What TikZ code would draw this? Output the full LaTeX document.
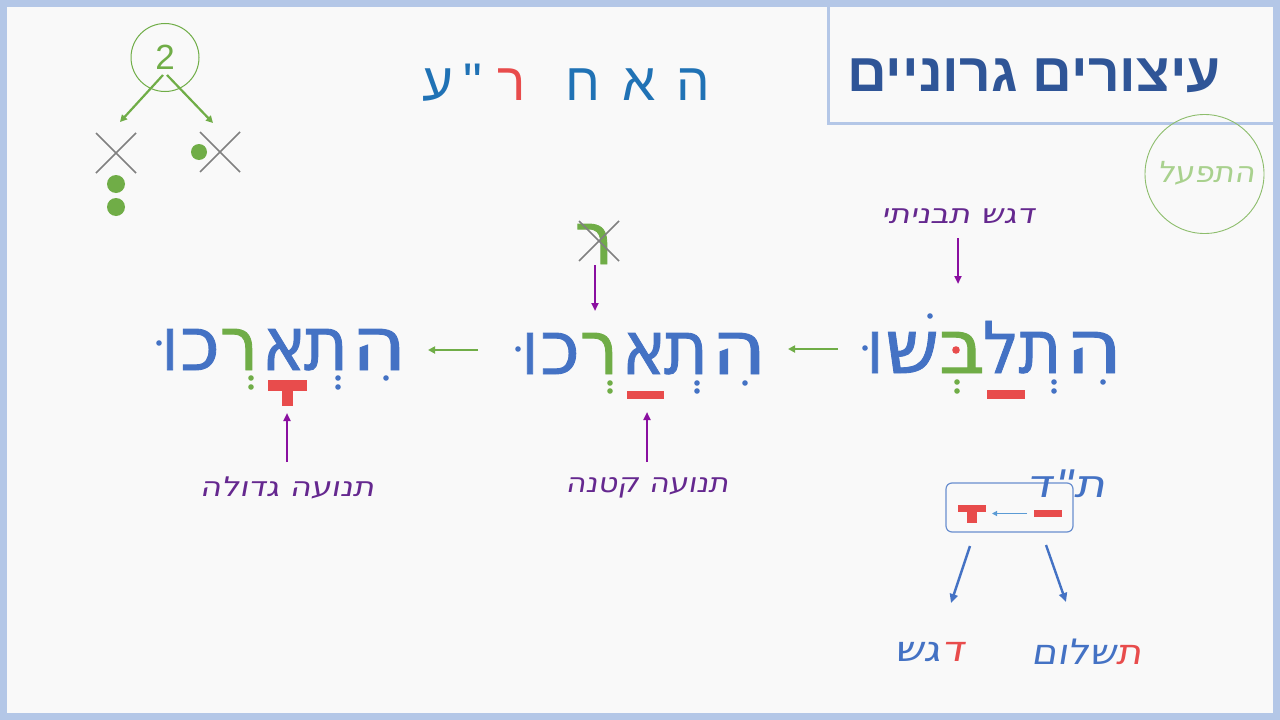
\documentclass[tikz,border=0pt]{standalone}
\usepackage{fontspec}
\usetikzlibrary{arrows.meta}
\TeXXeTstate=1
\newfontfamily\heb[Script=Hebrew]{Liberation Sans}
\newfontfamily\hebw[Script=Hebrew,FakeBold=1.2]{DejaVu Sans}
\newfontfamily\hand[Script=Hebrew,FakeSlant=0.15]{DejaVu Sans}
\newcommand{\rl}[3]{\resizebox{#1pt}{#2pt}{#3}}
\newcommand{\hs}[1]{\scalebox{1.2}[1]{#1}}
\definecolor{bgc}{HTML}{F9F9F9}
\definecolor{framec}{HTML}{B4C7E7}
\definecolor{wblue}{HTML}{4472C4}
\definecolor{wgreen}{HTML}{70AD47}
\definecolor{wred}{HTML}{E84C4C}
\definecolor{titleblue}{HTML}{2F5597}
\definecolor{topblue}{HTML}{2072B5}
\definecolor{apurple}{HTML}{8A10A0}
\definecolor{tpurple}{HTML}{65288F}
\definecolor{xgray}{HTML}{808080}
\definecolor{lgreen}{HTML}{A9D18E}
\definecolor{boxblue}{HTML}{6A8FCF}
\definecolor{smallarrow}{HTML}{5B9BD5}
\begin{document}
\begin{tikzpicture}[x=1pt,y=-1pt,
  letter/.style={anchor=base,inner sep=0pt,outer sep=0pt,font=\hebw\fontsize{66}{66}\selectfont,text=wblue},
  topletter/.style={anchor=base,inner sep=0pt,outer sep=0pt,font=\heb\fontsize{53}{53}\selectfont,text=topblue},
  hlabel/.style={inner sep=0pt,font=\hand\fontsize{27}{27}\selectfont,text=tpurple},
  parrow/.style={draw=apurple,line width=2.2pt,-{Triangle[length=8pt,width=7pt]}},
  garrow/.style={draw=wgreen,line width=2pt,-{Triangle[length=7pt,width=7pt]}},
  barrow/.style={draw=wblue,line width=2.4pt,-{Triangle[length=9pt,width=8pt]}},
  xline/.style={draw=xgray,line width=1.6pt},
]
\useasboundingbox (0,0) rectangle (1280,720);
\fill[bgc] (0,0) rectangle (1280,720);
\draw[framec,line width=7pt] (3.5,3.5) rectangle (1276.5,716.5);

% title box
\draw[framec,line width=3.5pt] (828.5,4) -- (828.5,123.5) -- (1273,123.5);
\node[anchor=base,inner sep=0pt,font=\heb\bfseries\fontsize{54}{54}\selectfont,text=titleblue] (title) at (1034,91) {\scalebox{1.02}[1]{\beginR עיצורים גרוניים\endR}};

% circle hitpael
\node[circle,draw=wgreen!80,line width=0.9pt,minimum size=119pt,inner sep=0pt] (hitc) at (1204.5,174) {};
\node[inner sep=0pt,font=\hand\fontsize{29}{29}\selectfont,text=lgreen] (hit) at (1206,173) {\scalebox{1.08}[1]{\beginR התפעל\endR}};

% top letters
\node[topletter] (t1) at (693,100) {ה};
\node[topletter] (t2) at (639,100) {א};
\node[topletter] (t3) at (583,100) {ח};
\node[topletter,text=wred] (t4) at (512,100) {ר};
\node[topletter] (t5) at (473,100) {"};
\node[topletter] (t6) at (438,100) {ע};

% top-left diagram
\node[circle,draw=wgreen,line width=1pt,minimum size=68pt,inner sep=0pt,font=\heb\fontsize{35}{35}\selectfont,text=wgreen] (two) at (165,57.5) {2};
\coordinate (g1s) at (163,75);
\coordinate (g1e) at (120,122);
\coordinate (g2s) at (167,75);
\coordinate (g2e) at (213,123);
\draw[garrow,line width=2.2pt] (g1s) -- (g1e);
\draw[garrow,line width=2.2pt] (g2s) -- (g2e);
\draw[xline] (96,133) -- (136,173) (96,173) -- (136,133);
\draw[xline] (200,132) -- (240,172) (200,172) -- (240,132);
\fill[wgreen] (116,184) circle (9pt);
\fill[wgreen] (116,207) circle (9pt);
\fill[wgreen] (199,152) circle (8pt);

% word 1: התלבשו
\node[letter] (w1a) at (1094,373) {\rl{57}{41}{ה}};
\node[letter] (w1b) at (1040,373) {\rl{43}{41}{ת}};
\node[letter] (w1c) at (1001,373) {\rl{36}{52}{ל}};
\node[letter,text=wgreen] (w1d) at (962,373) {\rl{46}{41}{ב}};
\node[letter] (w1e) at (912,373) {\rl{54}{41}{ש}};
\node[letter] (w1f) at (875,373) {\rl{16}{41}{ו}};
\fill[wblue] (865,348) circle (2.8pt);
\fill[wblue] (930,316) circle (2.8pt);
\fill[wred] (956,350) circle (3.8pt);
\fill[wblue] (1103,382) circle (2.8pt);
\fill[wblue] (1054,382) circle (2.8pt);
\fill[wblue] (1054,391) circle (2.8pt);
\fill[wred] (987,390) rectangle (1025,399);
\fill[wgreen] (957,382) circle (2.8pt);
\fill[wgreen] (957,391) circle (2.8pt);

% word 2: התארכו
\node[letter] (w2a) at (739,374) {\rl{55}{41}{ה}};
\node[letter] (w2b) at (686,374) {\rl{44}{41}{ת}};
\node[letter] (w2c) at (644,374) {\rl{44}{41}{א}};
\node[letter,text=wgreen] (w2d) at (599,374) {\rl{38}{41}{ר}};
\node[letter] (w2e) at (560,374) {\rl{40}{41}{כ}};
\node[letter] (w2f) at (530,374) {\rl{16}{41}{ו}};
\fill[wblue] (518,349) circle (2.8pt);
\fill[wblue] (745,383) circle (2.8pt);
\fill[wblue] (697,383) circle (2.8pt);
\fill[wblue] (697,391) circle (2.8pt);
\fill[wred] (627,391) rectangle (664,399);
\fill[wgreen] (610,383) circle (2.8pt);
\fill[wgreen] (610,391) circle (2.8pt);

% crossed resh above word 2
\node[letter,text=wgreen] (rx) at (594,264) {\rl{38}{40}{ר}};
\draw[xline] (579,221) -- (619,261) (579,261) -- (619,221);

% word 3: התארכו
\node[letter] (w3a) at (379,370) {\rl{55}{41}{ה}};
\node[letter] (w3b) at (326,370) {\rl{44}{41}{ת}};
\node[letter] (w3c) at (284,370) {\rl{44}{41}{א}};
\node[letter,text=wgreen] (w3d) at (239,370) {\rl{38}{41}{ר}};
\node[letter] (w3e) at (200,370) {\rl{40}{41}{כ}};
\node[letter] (w3f) at (170,370) {\rl{16}{41}{ו}};
\fill[wblue] (159,343) circle (2.8pt);
\fill[wblue] (386,378) circle (2.8pt);
\fill[wblue] (338,378) circle (2.8pt);
\fill[wblue] (338,387) circle (2.8pt);
\fill[wgreen] (251,378) circle (2.8pt);
\fill[wgreen] (251,387) circle (2.8pt);
\fill[wred] (268,380) rectangle (307,391);
\fill[wred] (282,390) rectangle (293,406);

% arrows between words
\coordinate (ga1s) at (838,349);
\coordinate (ga1e) at (788,349);
\coordinate (ga2s) at (478,350);
\coordinate (ga2e) at (428,350);
\draw[garrow] (ga1s) -- (ga1e);
\draw[garrow] (ga2s) -- (ga2e);

% purple labels and arrows
\node[hlabel] (lab1) at (958,216) {\hs{\beginR דגש תבניתי\endR}};
\coordinate (p1s) at (958,238);
\coordinate (p1e) at (958,284);
\draw[parrow] (p1s) -- (p1e);

\coordinate (p2s) at (595,265);
\coordinate (p2e) at (595,311);
\draw[parrow] (p2s) -- (p2e);

\node[hlabel] (lab2) at (647,488) {\scalebox{1.13}[1]{\beginR תנועה קטנה\endR}};
\coordinate (p3s) at (647,462);
\coordinate (p3e) at (647,412);
\draw[parrow] (p3s) -- (p3e);

\node[hlabel] (lab3) at (287,488) {\hs{\beginR תנועה גדולה\endR}};
\coordinate (p4s) at (287,462);
\coordinate (p4e) at (287,413);
\draw[parrow] (p4s) -- (p4e);

% bottom right
\node[draw=boxblue,line width=1.2pt,rounded corners=6pt,minimum width=127pt,minimum height=49pt,inner sep=0pt] (tdbox) at (1009.5,507.5) {};
\node[inner sep=0pt,font=\hand\fontsize{38}{38}\selectfont,text=wblue] (td) at (1066,484) {\scalebox{1.25}[1]{\beginR ת"ד\endR}};
\fill[wred] (958,505) rectangle (986,512);
\fill[wred] (967,511) rectangle (977,523);
\fill[wred] (1034,510) rectangle (1062,517);
\coordinate (sas) at (1027,513.5);
\coordinate (sae) at (992,513.5);
\draw[smallarrow,line width=1.3pt,-{Triangle[length=5pt,width=5pt]}] (sas) -- (sae);

\coordinate (b1s) at (970,546);
\coordinate (b1e) at (951,603);
\coordinate (b2s) at (1046,545);
\coordinate (b2e) at (1066,602);
\draw[barrow] (b1s) -- (b1e);
\draw[barrow] (b2s) -- (b2e);

\node[inner sep=0pt,font=\hand\fontsize{35}{35}\selectfont,text=wblue] (dagesh) at (929,652) {\hs{\beginR גש\endR\textcolor{wred}{\beginR ד\endR}}};
\node[inner sep=0pt,font=\hand\fontsize{35}{35}\selectfont,text=wblue] (tashlum) at (1087,652) {\scalebox{1.1}[1]{\beginR שלום\endR\textcolor{wred}{\beginR ת\endR}}};
\end{tikzpicture}
\end{document}
